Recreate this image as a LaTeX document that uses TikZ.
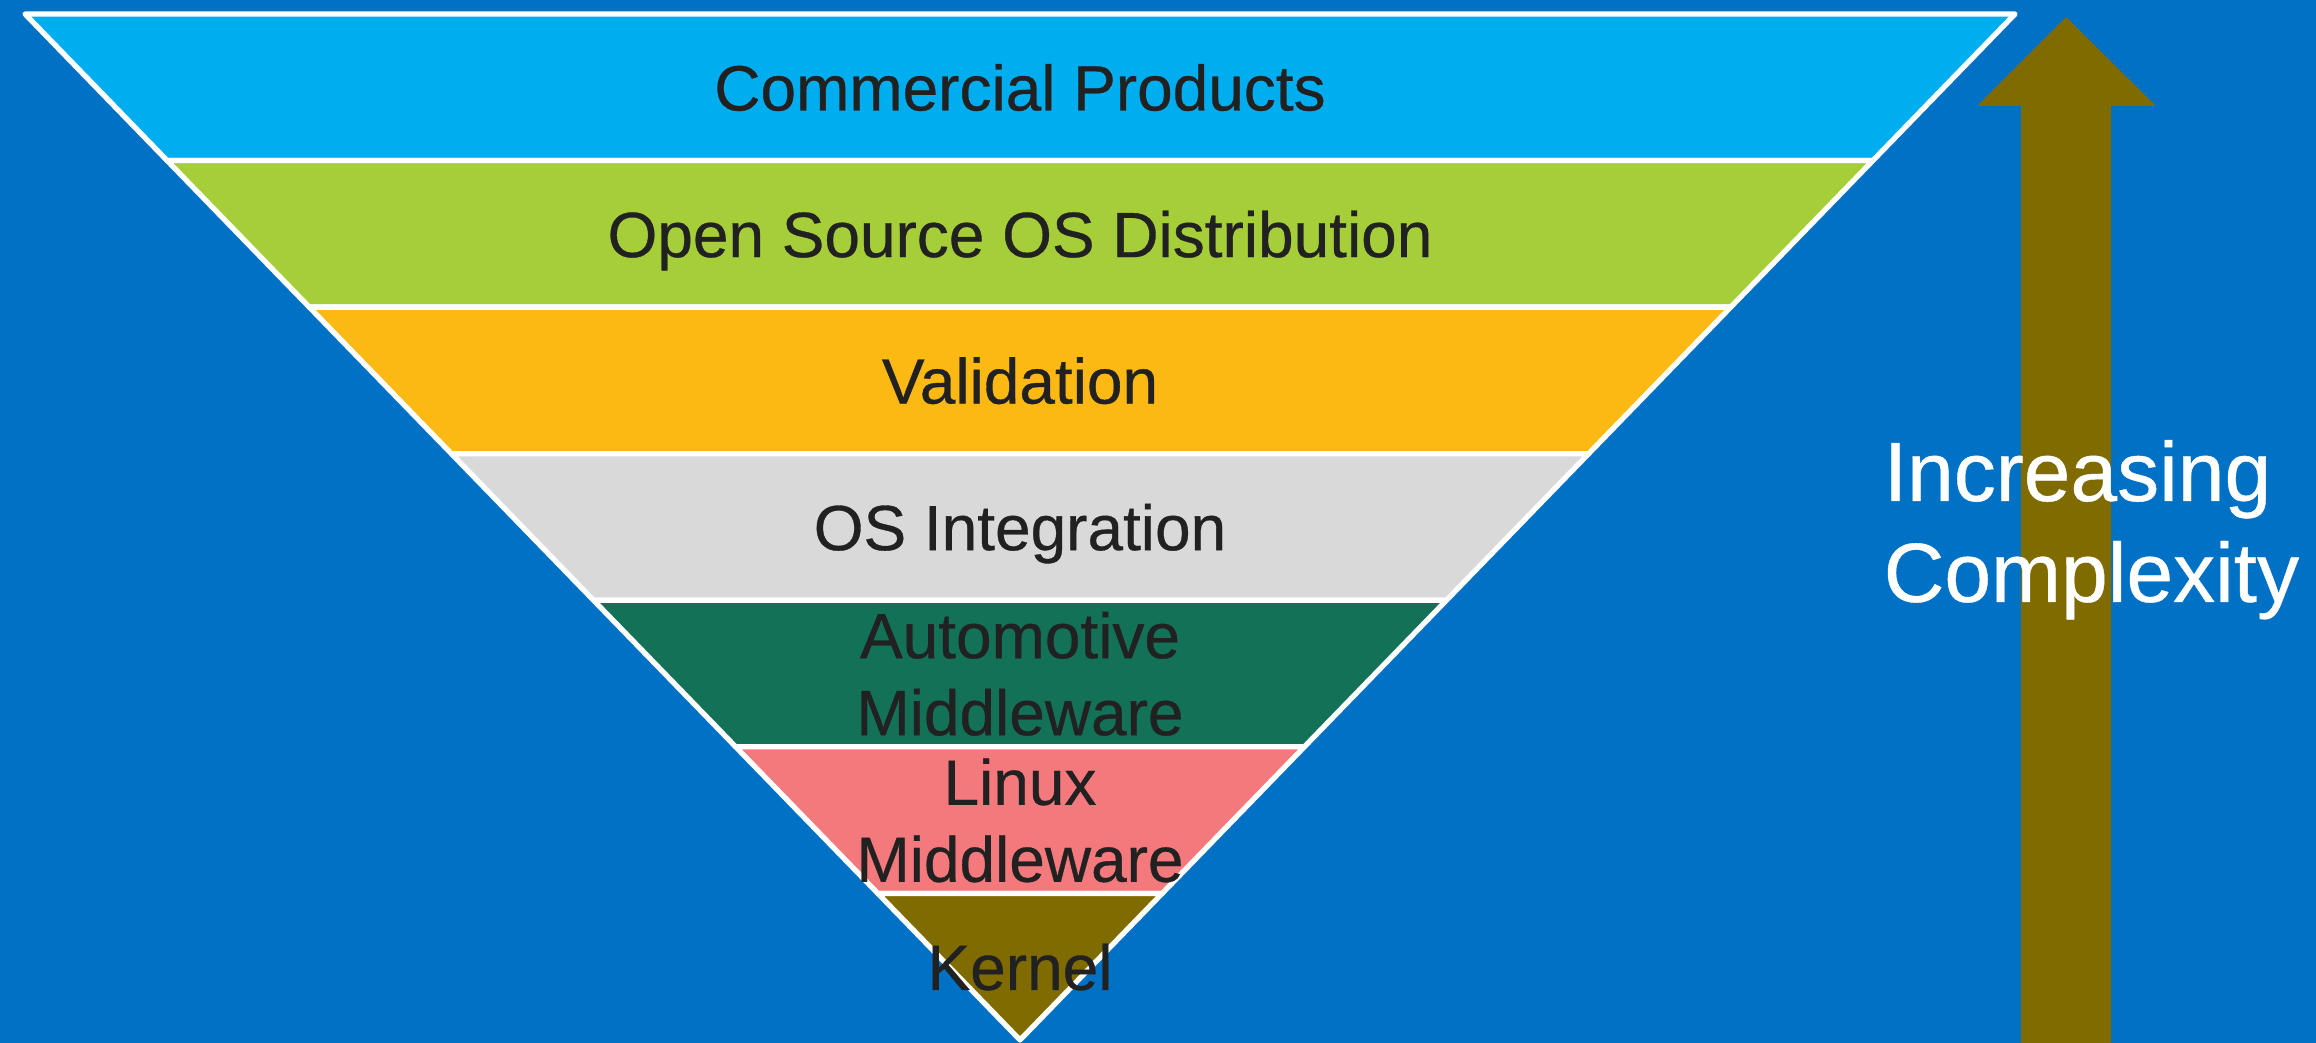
\documentclass[tikz,border=0pt]{standalone}
\usepackage{fontspec}
\setmainfont{Liberation Sans}
\newfontfamily\lblfont[FakeBold=0.5]{Liberation Sans}
\usepackage{xcolor}
\usepackage{tikz}
\definecolor{bgblue}{HTML}{0071C5}
\definecolor{bandcyan}{HTML}{00AEEF}
\definecolor{bandgreen}{HTML}{A6CE39}
\definecolor{bandamber}{HTML}{FDB913}
\definecolor{bandgray}{HTML}{D9D9D9}
\definecolor{banddkgreen}{HTML}{137157}
\definecolor{bandpink}{HTML}{F3797D}
\definecolor{bandolive}{HTML}{7F6B00}
\definecolor{labelgray}{HTML}{212121}

\begin{document}
\begin{tikzpicture}[
        band/.style={draw=white, line width=1.5pt, line join=round},
        lbl/.style={font=\lblfont\fontsize{18.2}{21.9}\selectfont, text=labelgray, align=center, inner sep=0pt, text depth=0pt},
        sidelbl/.style={font=\lblfont\fontsize{23.9}{28.7}\selectfont, text=white, align=left, inner sep=0pt, text depth=0pt}]
        \useasboundingbox (0,0) rectangle (23.16,10.42);
        \fill[bgblue] (-0.2,-0.2) rectangle (23.36,10.62);
        % funnel bands, top to bottom
        \foreach \c [count=\i from 0] in {bandcyan,bandgreen,bandamber,bandgray,banddkgreen,bandpink,bandolive} {
          \pgfmathsetmacro\yt{10.28-\i*1.4657}
          \pgfmathsetmacro\yb{\yt-1.4657}
          \pgfmathsetmacro\wt{9.95*(1-\i/7)}
          \pgfmathsetmacro\wb{9.95*(1-(\i+1)/7)}
          \filldraw[band, fill=\c] (10.2-\wt,\yt) -- (10.2+\wt,\yt) -- (10.2+\wb,\yb) -- (10.2-\wb,\yb) -- cycle;
        }
        \node[lbl] (commercial) at (10.2,9.547) {Commercial Products};
        \node[lbl] (distro) at (10.2,8.081) {Open Source OS Distribution};
        \node[lbl] (valid) at (10.2,6.616) {Validation};
        \node[lbl] (integ) at (10.2,5.150) {OS Integration};
        \node[lbl] (automw) at (10.2,3.685) {Automotive\\Middleware};
        \node[lbl] (linuxmw) at (10.2,2.219) {Linux\\Middleware};
        \node[lbl] (kernel) at (10.2,0.753) {Kernel};
        % complexity arrow
        \fill[bandolive] (20.21,-0.2) -- (20.21,9.36) -- (19.77,9.36) -- (20.66,10.25)
          -- (21.56,9.36) -- (21.11,9.36) -- (21.11,-0.2) -- cycle;
        \node[sidelbl, anchor=west] (complexity) at (18.83,5.21) {Increasing\\Complexity};
      \end{tikzpicture}
\end{document}
